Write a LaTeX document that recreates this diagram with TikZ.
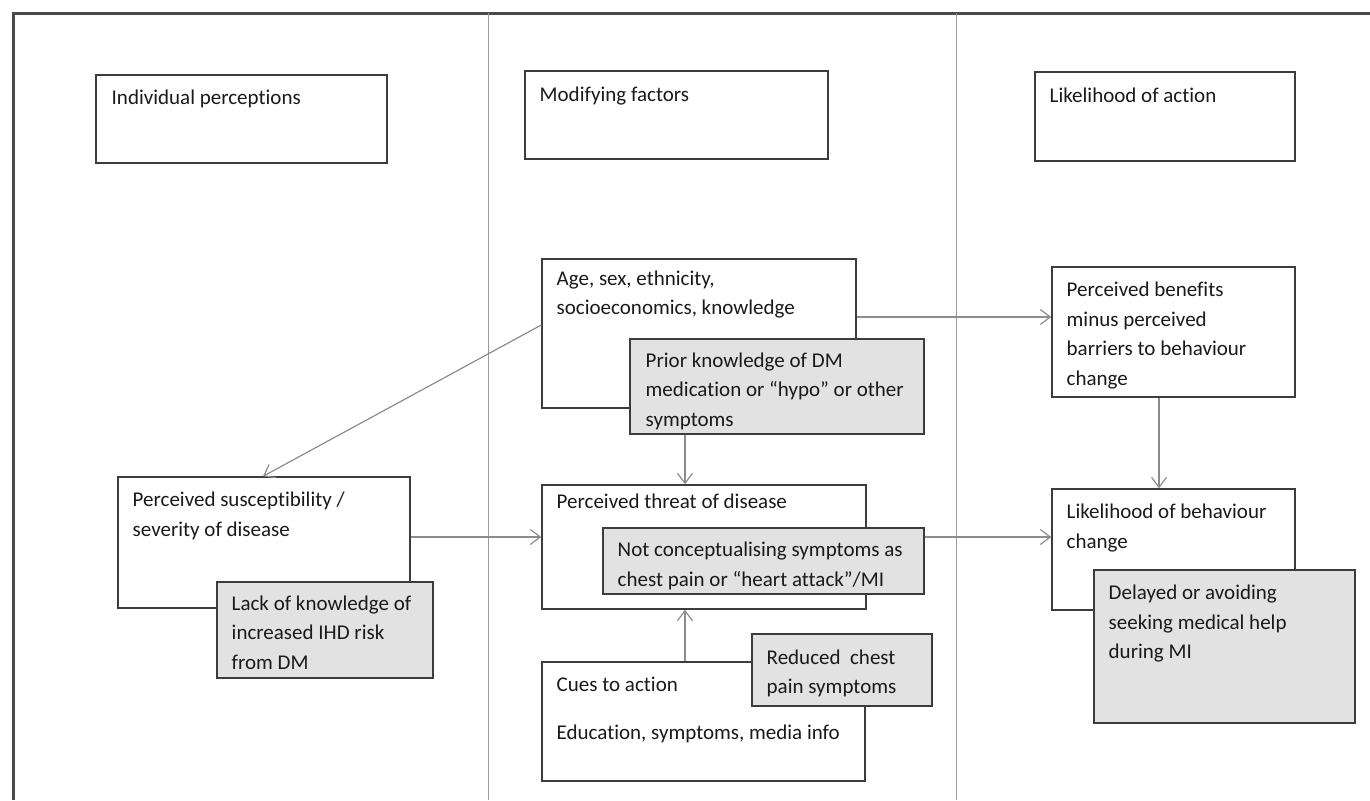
\documentclass[tikz,border=0pt]{standalone}
\usepackage{fontspec}
\setmainfont{Carlito}[Ligatures={NoCommon}]
\usetikzlibrary{arrows.meta,fit,calc}
\definecolor{framec}{HTML}{4A4A4A}
\definecolor{dividerc}{HTML}{9A9A9A}
\definecolor{boxline}{HTML}{3C3C3C}
\definecolor{grayfill}{HTML}{E2E2E2}
\definecolor{arrowc}{HTML}{8C8C8C}
\definecolor{txtc}{HTML}{1A1A1A}
\begin{document}
\begin{tikzpicture}[x=0.5pt,y=-0.5pt,
  box/.style={draw=boxline,line width=0.7pt,fill=white,inner sep=0pt},
  gbox/.style={box,fill=grayfill},
  tx/.style={anchor=north west,align=left,inner sep=0pt,text=txtc,
    font=\fontsize{10.5pt}{14.75pt}\selectfont},
  arr/.style={draw=arrowc,line width=0.6pt,-{Straight Barb[length=5pt,width=7.5pt]}},
  framel/.style={draw=framec,line width=1.5pt},
  divl/.style={draw=dividerc,line width=0.5pt}]
\useasboundingbox (0,0) rectangle (1370,800);

% frame and column dividers
\draw[framel] (13,800) -- (13,13) -- (1370,13);
\draw[divl] (488,13) -- (488,800);
\draw[divl] (956,13) -- (956,800);

% headers
\node[box, fit={(96,75)(387,163)}] (ip) {};
\node[tx] (tip) at ($(ip.north west)+(16,9)$) {\strut Individual perceptions};
\node[box, fit={(525,71)(828,159)}] (mf) {};
\node[tx] (tmf) at ($(mf.north west)+(15,10)$) {\strut Modifying factors};
\node[box, fit={(1035,72)(1295,161)}] (la) {};
\node[tx] (tla) at ($(la.north west)+(15,10)$) {\strut Likelihood of action};

% modifying factors
\node[box, fit={(542,259)(856,408)}] (age) {};
\node[tx] (tage) at ($(age.north west)+(15,6)$) {\strut Age, sex, ethnicity,\\socioeconomics, knowledge};
\node[gbox, fit={(630,339)(924,434)}] (prior) {};
\begin{scope}
\clip (prior.south west) rectangle (prior.north east);
\node[tx] (tprior) at ($(prior.north west)+(16,8)$) {\strut Prior knowledge of DM\\medication or “hypo” or other\\symptoms};
\end{scope}

\node[box, fit={(542,485)(866,609)}] (threat) {};
\node[tx] (tthreat) at ($(threat.north west)+(15,3)$) {\strut Perceived threat of disease};
\node[gbox, fit={(603,528)(924,594)}] (notc) {};
\begin{scope}
\clip (notc.south west) rectangle (notc.north east);
\node[tx] (tnotc) at ($(notc.north west)+(15,8.5)$) {\strut Not conceptualising symptoms as\\chest pain or “heart attack”/MI};
\end{scope}

\node[box, fit={(542,662)(865,781)}] (cues) {};
\node[tx] (tcues) at ($(cues.north west)+(15,9.5)$) {\strut Cues to action\\[9.25pt]Education, symptoms, media info};
\node[gbox, fit={(752,634)(932,706)}] (rc) {};
\node[tx] (trc) at ($(rc.north west)+(15,10)$) {\strut Reduced\ \ chest\\pain symptoms};

% individual perceptions
\node[box, fit={(118,477)(410,608)}] (ps) {};
\node[tx] (tps) at ($(ps.north west)+(15,9.5)$) {\strut Perceived susceptibility /\\severity of disease};
\node[gbox, fit={(217,582)(433,678)}] (lk) {};
\node[tx] (tlk) at ($(lk.north west)+(15,8)$) {\strut Lack of knowledge of\\increased IHD risk\\from DM};

% likelihood of action
\node[box, fit={(1052,267)(1295,397)}] (pb) {};
\node[tx] (tpb) at ($(pb.north west)+(15,9.5)$) {\strut Perceived benefits\\minus perceived\\barriers to behaviour\\change};
\node[box, fit={(1052,489)(1295,610)}] (lb) {};
\node[tx] (tlb) at ($(lb.north west)+(15,9.5)$) {\strut Likelihood of behaviour\\change};
\node[gbox, fit={(1094,570)(1355,723)}] (dl) {};
\node[tx] (tdl) at ($(dl.north west)+(15,9.5)$) {\strut Delayed or avoiding\\seeking medical help\\during MI};

% connectors
\draw[arr] (age.east |- 0,317) -- (pb.west |- 0,317);
\draw[arr] (age.west |- 0,325) -- (ps.north -| 263,0);
\draw[arr] (prior.south -| 685,0) -- (threat.north -| 685,0);
\draw[arr] (ps.east |- 0,537) -- (threat.west |- 0,537);
\draw[arr] (notc.east |- 0,537) -- (lb.west |- 0,537);
\draw[arr] (cues.north -| 685,0) -- (threat.south -| 685,0);
\draw[arr] (pb.south -| 1159,0) -- (lb.north -| 1159,0);
\end{tikzpicture}
\end{document}
